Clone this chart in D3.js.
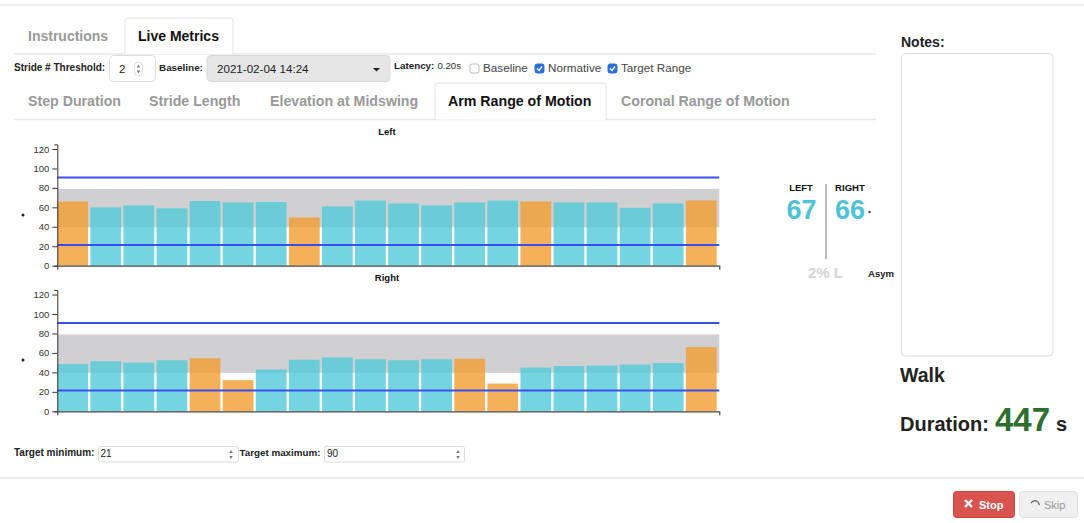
<!DOCTYPE html>
<html>
<head>
<meta charset="utf-8">
<script src="https://cdn.jsdelivr.net/npm/d3@7"></script>
<style>
  html, body { margin: 0; padding: 0; background: #fff; }
  svg { display: block; font-family: "Liberation Sans", Arial, sans-serif; }
</style>
</head>
<body>
<svg id="page" width="1084" height="523"></svg>
<script>
// values
const strides = d3.range(1, 21);
const leftValues = [66, 60, 62, 59, 66.5, 65, 65.5, 49.5, 61, 67, 64, 62, 65, 67, 66, 65, 65, 59.5, 64, 67];
const rightValues = [48.5, 51.5, 50, 52.5, 54.5, 32, 43, 53, 55.5, 53.5, 52.5, 53.5, 54, 28.5, 45, 46.5, 47, 48, 49.5, 66];
const leftFlagged = [1, 8, 15, 20];
const rightFlagged = [5, 6, 13, 14, 20];
const normativeRange = [39.5, 79];
const targetLines = [21.3, 90.8];
const yTicks = [0, 20, 40, 60, 80, 100, 120];
const topTabs = ["Instructions", "Live Metrics"];
const metricTabs = ["Step Duration", "Stride Length", "Elevation at Midswing", "Arm Range of Motion", "Coronal Range of Motion"];
const checkLabels = ["Baseline", "Normative", "Target Range"];
const checkStates = [false, true, true];

const svg = d3.select("#page");

function label(x, y, str, size, opts = {}) {
  return svg.append("text")
    .attr("x", x).attr("y", y)
    .attr("font-size", size)
    .attr("font-weight", opts.weight || "normal")
    .attr("fill", opts.fill || "#222")
    .attr("text-anchor", opts.anchor || "start")
    .text(str);
}

function box(x, y, w, h, fill, stroke, r = 3) {
  return svg.append("rect")
    .attr("x", x).attr("y", y).attr("width", w).attr("height", h)
    .attr("rx", r).attr("fill", fill).attr("stroke", stroke);
}

function hRule(x1, x2, y, color = "#e8e8e8", w = 1.5) {
  svg.append("line").attr("x1", x1).attr("x2", x2).attr("y1", y).attr("y2", y)
    .attr("stroke", color).attr("stroke-width", w);
}

// little up/down arrows of a number input
function spinner(cx, cy, color = "#777") {
  const tri = d3.symbol().type(d3.symbolTriangle).size(5);
  svg.append("path").attr("d", tri()).attr("fill", color).attr("transform", `translate(${cx},${cy - 2.5})`);
  svg.append("path").attr("d", tri()).attr("fill", color).attr("transform", `translate(${cx},${cy + 2.5}) rotate(180)`);
}

// page rules
hRule(0, 1084, 5);
hRule(0, 1084, 478);

// top tabs
hRule(14, 876, 54);
svg.append("path").attr("d", "M125,54V21a3,3 0 0 1 3,-3H230a3,3 0 0 1 3,3V54")
  .attr("fill", "#fff").attr("stroke", "#e2e2e2");
label(28, 41, topTabs[0], 14, { weight: "bold", fill: "#999" });
label(138, 41, topTabs[1], 14, { weight: "bold", fill: "#111" });

// controls row
label(14, 71, "Stride # Threshold:", 10, { weight: "bold" });
box(109.5, 55.5, 46, 26, "#fff", "#ddd", 4);
label(119, 73, "2", 11.5);
svg.append("rect").attr("x", 134.5).attr("y", 62).attr("width", 8).attr("height", 14).attr("rx", 4)
  .attr("fill", "#fff").attr("stroke", "#ccc").attr("stroke-width", 0.7);
spinner(138.5, 69);
label(159, 71, "Baseline:", 9.9, { weight: "bold" });
box(207, 55.5, 183, 26, "#e6e6e6", "#d8d8d8", 4);
label(217, 73, "2021-02-04 14:24", 11.6);
svg.append("path").attr("d", "M373,68h7l-3.5,3.5z").attr("fill", "#222");
label(394, 69, "Latency:", 9.8, { weight: "bold" });
label(437.5, 69, "0.20s", 9.6, { fill: "#333" });

const checkX = [470, 535, 608];
checkLabels.forEach((name, i) => {
  const x = checkX[i];
  box(x, 64, 9, 9, checkStates[i] ? "#2b6fd6" : "#fff", checkStates[i] ? "#2b6fd6" : "#bbb", 2);
  if (checkStates[i]) {
    svg.append("path").attr("d", `M${x + 2},68.5l2,2l3,-4`)
      .attr("fill", "none").attr("stroke", "#fff").attr("stroke-width", 1.3);
  }
  label(x + 13, 72, name, 11.7, { fill: "#444" });
});

// metric tabs
hRule(14, 876, 119.5);
svg.append("path").attr("d", "M435,119.5V86a3,3 0 0 1 3,-3H603a3,3 0 0 1 3,3V120")
  .attr("fill", "#fff").attr("stroke", "#e2e2e2");
const metricTabX = [28, 149, 270, 448, 621];
metricTabs.forEach((name, i) => {
  const active = i === 3;
  label(metricTabX[i], 106, name, 14.2, { weight: "bold", fill: active ? "#111" : "#999" });
});

// one bar panel
function drawPanel(title, values, flagged, y0, titleY, dotY) {
  const x = d3.scaleBand()
    .domain(strides)
    .range([57.3, 719.3])
    .paddingInner(0.07)
    .paddingOuter(0.04)
    .align(0);
  const y = d3.scaleLinear().domain([0, 124.7]).range([y0, y0 - 121.3]);

  const g = svg.append("g");

  g.append("rect")
    .attr("x", 57.3)
    .attr("width", 719.3 - 57.3)
    .attr("y", y(normativeRange[1]))
    .attr("height", y(normativeRange[0]) - y(normativeRange[1]))
    .attr("fill", "#d0d0d2");

  g.selectAll("rect.bar")
    .data(values)
    .join("rect")
    .attr("class", "bar")
    .attr("x", (d, i) => x(strides[i]))
    .attr("width", x.bandwidth())
    .attr("y", d => y(d))
    .attr("height", d => y(0) - y(d))
    .attr("fill", (d, i) => flagged.includes(strides[i]) ? "#f29c31" : "#51cad8")
    .attr("fill-opacity", 0.8);

  g.selectAll("line.target")
    .data(targetLines)
    .join("line")
    .attr("class", "target")
    .attr("x1", 57.3)
    .attr("x2", 719.3)
    .attr("y1", d => y(d))
    .attr("y2", d => y(d))
    .attr("stroke", "#3a4ff0")
    .attr("stroke-width", 2);

  const yAxis = g.append("g")
    .attr("transform", "translate(57.3,0)")
    .call(d3.axisLeft(y).tickValues(yTicks).tickSize(5).tickSizeOuter(3));
  yAxis.selectAll("text").attr("font-size", 9.5).attr("font-family", "inherit").attr("fill", "#333");
  yAxis.selectAll("line, path").attr("stroke", "#333");

  const xAxis = g.append("g")
    .attr("transform", `translate(0,${y0})`)
    .call(d3.axisBottom(x).tickValues([]).tickSizeOuter(4));
  xAxis.select("path").attr("stroke", "#444").attr("stroke-width", 1.2);

  label(387, titleY, title, 9.5, { weight: "bold", anchor: "middle", fill: "#111" });
  svg.append("circle").attr("cx", 23).attr("cy", dotY).attr("r", 1.5).attr("fill", "#222");
}

drawPanel("Left", leftValues, leftFlagged, 265.7, 135, 215);
drawPanel("Right", rightValues, rightFlagged, 411.3, 281, 360);

// target inputs
label(14, 456, "Target minimum:", 10, { weight: "bold" });
box(98.5, 446.5, 140, 15.5, "#fff", "#ddd", 2);
label(100.5, 457, "21", 10);
spinner(231, 454.5);
label(239.5, 456, "Target maximum:", 9.8, { weight: "bold" });
box(324.5, 446.5, 140, 15.5, "#fff", "#ddd", 2);
label(327, 457, "90", 10);
spinner(458, 454.5);

// left/right summary
label(801, 191, "LEFT", 9.4, { weight: "bold", anchor: "middle", fill: "#111" });
label(850, 191, "RIGHT", 9.6, { weight: "bold", anchor: "middle", fill: "#111" });
label(801.5, 219, "67", 27, { weight: "bold", anchor: "middle", fill: "#4fc3d6" });
label(850, 219, "66", 27, { weight: "bold", anchor: "middle", fill: "#4fc3d6" });
svg.append("circle").attr("cx", 869.5).attr("cy", 212).attr("r", 1.3).attr("fill", "#555");
svg.append("line").attr("x1", 826).attr("x2", 826).attr("y1", 184).attr("y2", 259)
  .attr("stroke", "#aaa").attr("stroke-width", 1.6);
label(825.5, 278, "2% L", 15, { weight: "bold", anchor: "middle", fill: "#d4d4d4" });
label(868, 277, "Asym", 9.6, { weight: "bold", fill: "#222" });

// notes column
label(901, 47, "Notes:", 14, { weight: "bold", fill: "#222" });
box(901.5, 53.5, 151.5, 302.5, "#fff", "#ddd", 4);
label(900, 382, "Walk", 19.5, { weight: "bold", fill: "#222" });
label(900, 431, "Duration:", 20, { weight: "bold", fill: "#222" });
label(995, 431, "447", 33, { weight: "bold", fill: "#2e6e2e" });
label(1056, 431, "s", 20, { weight: "bold", fill: "#222" });

// buttons
box(953.5, 491.5, 61, 26, "#d9534f", "#d43f3a", 3);
svg.append("path").attr("d", "M965,500l7,7m0,-7l-7,7").attr("stroke", "#fff").attr("stroke-width", 2.4).attr("fill", "none");
label(979, 509, "Stop", 11, { weight: "bold", fill: "#fff" });
box(1019.5, 491.5, 58, 26, "#f0f0f0", "#e0e0e0", 3);
svg.append("path").attr("d", "M1031,503q3,-4 7,-1l1.5,3").attr("stroke", "#666").attr("stroke-width", 1.3).attr("fill", "none");
label(1044, 509, "Skip", 11, { fill: "#999" });
</script>
</body>
</html>
